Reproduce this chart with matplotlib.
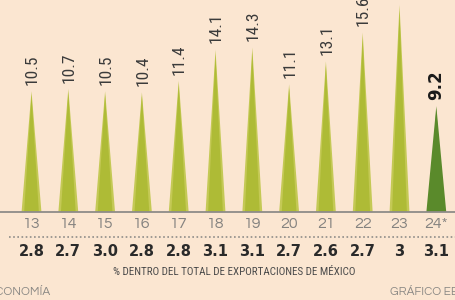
import matplotlib
matplotlib.use('Agg')
import matplotlib.pyplot as plt
import matplotlib.transforms as mtransforms
from matplotlib.lines import Line2D

# Datos de la gráfica
anios = ['13', '14', '15', '16', '17', '18', '19', '20', '21', '22', '23', '24*']
valores = [10.5, 10.7, 10.5, 10.4, 11.4, 14.1, 14.3, 11.1, 13.1, 15.6, 18.0, 9.2]
etiquetas = ['10.5', '10.7', '10.5', '10.4', '11.4', '14.1', '14.3', '11.1', '13.1', '15.6', '18.0', '9.2']
porcentajes = ['2.8', '2.7', '3.0', '2.8', '2.8', '3.1', '3.1', '2.7', '2.6', '2.7', '3', '3.1']

fondo = '#fbe6d1'
verde_claro = '#aebb36'
verde_borde = '#c4c955'
verde_oscuro = '#5a8a2b'
condensada = ['Roboto Condensed', 'DejaVu Sans']
gotica = ['Questrial', 'DejaVu Sans']

fig = plt.figure(figsize=(4.56, 3.0), dpi=100, facecolor=fondo)
ax = fig.add_axes([0, 88 / 300, 1, 212 / 300])
ax.set_facecolor(fondo)
ax.set_xlim(-0.856, 11.535)
ax.set_ylim(0, 18.43)
ax.axis('off')

n = len(valores)
for i, v in enumerate(valores):
    ultimo = i == n - 1
    col = verde_oscuro if ultimo else verde_claro
    borde = verde_oscuro if ultimo else verde_borde
    ax.fill([i - 0.27, i, i + 0.27], [0, v, 0], color=borde, lw=0, zorder=2)
    ax.fill([i - 0.2, i, i + 0.2], [0, v * 0.97, 0], color=col, lw=0, zorder=3)
    if ultimo:
        ax.text(i, v + 0.55, etiquetas[i], rotation=90, ha='center', va='bottom',
                fontsize=12, fontweight='bold', color='#1a1a1a', family='DejaVu Sans')
    else:
        ax.text(i + 0.02, v + 0.55, etiquetas[i], rotation=90, ha='center', va='bottom',
                fontsize=12.5, color='#3a3a3a', family=condensada)

# línea base
ax.axhline(0, color='#8e8c88', lw=1.3, zorder=4, clip_on=False)

trans = mtransforms.blended_transform_factory(ax.transData, fig.transFigure)
for i, a in enumerate(anios):
    fig.text(i, 1 - 224 / 300, a, transform=trans, ha='center', va='center',
             fontsize=11.5, color='#858380', family=gotica)
    fig.text(i, 1 - 251 / 300, porcentajes[i], transform=trans, ha='center', va='center',
             fontsize=10.5, color='#2a2a2a', family='DejaVu Sans', fontweight='bold')

fig.add_artist(Line2D([9 / 456, 1], [1 - 237 / 300] * 2, transform=fig.transFigure,
                      color='#8e8c88', lw=1.2, linestyle=(0, (1, 1.5))))

fig.text(234 / 456, 1 - 272 / 300, '% DENTRO DEL TOTAL DE EXPORTACIONES DE MÉXICO',
         ha='center', va='center', fontsize=7.9, color='#4a4a4a', family=condensada)
fig.text(50 / 456, 1 - 292 / 300, 'ECONOMÍA', ha='right', va='center',
         fontsize=8.5, color='#8a8884', family=gotica)
fig.text(390 / 456, 1 - 292 / 300, 'GRÁFICO EE', ha='left', va='center',
         fontsize=8.5, color='#8a8884', family=gotica)

fig.savefig('out.png', dpi=100, facecolor=fondo)
